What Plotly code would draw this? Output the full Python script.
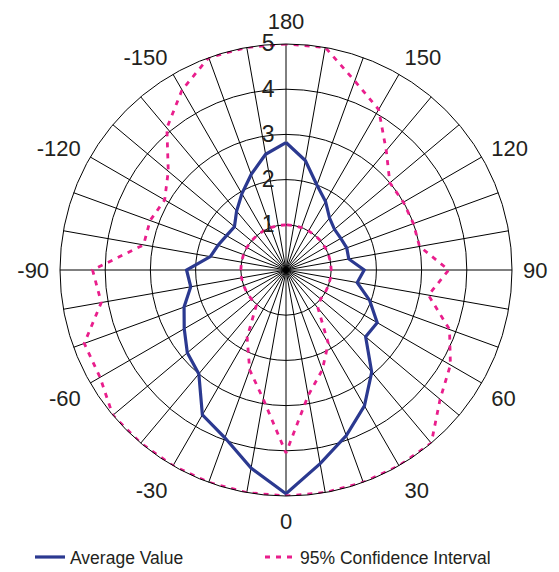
import plotly.graph_objects as go

# Angles (degrees): 0 at bottom, 90 at right
angles = list(range(-180, 181, 10))

average_value = [2.82, 2.60, 2.25, 1.95, 1.70, 1.49, 1.52, 1.60, 1.70, 2.20,
                 2.14, 2.40, 2.60, 2.85, 3.00, 3.70, 3.95, 4.45, 4.95,
                 4.35, 3.90, 3.47, 2.95, 2.30, 2.33, 1.97, 1.60, 1.73,
                 1.41, 1.43, 1.40, 1.40, 1.50, 1.75, 2.00, 2.46, 2.82]

ci_upper = [5.0, 5.0, 5.0, 4.6, 4.1, 3.4, 3.1, 3.2, 3.2, 4.28,
            4.15, 4.75, 4.75, 5.0, 5.0, 5.0, 5.0, 5.0, 5.0,
            5.0, 5.0, 5.0, 5.0, 4.45, 4.2, 3.85, 3.2, 3.6,
            3.0, 3.0, 3.0, 3.0, 3.45, 4.1, 4.45, 5.0, 5.0]

ci_lower = [1.0, 1.0, 1.0, 1.0, 1.0, 1.0, 1.0, 1.0, 1.0, 1.0,
            1.0, 1.0, 1.0, 1.0, 1.02, 1.72, 2.35, 2.9, 4.05,
            2.82, 2.35, 1.87, 1.1, 1.0, 1.0, 1.0, 1.0, 1.0,
            1.0, 1.0, 1.0, 1.0, 1.0, 1.0, 1.0, 1.0, 1.0]

radial_ticks = [1, 2, 3, 4, 5]
angular_tickvals = list(range(0, 360, 10))
angular_ticktext = [(str(v if v <= 180 else v - 360) if v % 30 == 0 else "") for v in angular_tickvals]

BLUE = "#2B3990"
PINK = "#E91E8C"
TXT = "#231F20"

fig = go.Figure()
fig.add_trace(go.Scatterpolar(
    r=average_value, theta=angles, mode="lines", name="Average Value",
    line=dict(color=BLUE, width=3.2), legendgroup="avg"))
fig.add_trace(go.Scatterpolar(
    r=ci_upper, theta=angles, mode="lines", name="95% Confidence Interval",
    line=dict(color=PINK, width=2.8, dash="5px,6px"), legendgroup="ci"))
fig.add_trace(go.Scatterpolar(
    r=ci_lower, theta=angles, mode="lines", name="95% Confidence Interval",
    line=dict(color=PINK, width=2.8, dash="5px,6px"), legendgroup="ci",
    showlegend=False))

W, H = 559, 572
OFF = 8  # page body margin
cx, cy, R = 286 - OFF, 270 - OFF, 226
fig.update_layout(
    width=W, height=H,
    margin=dict(l=0, r=0, t=0, b=0),
    paper_bgcolor="white",
    font=dict(family="Liberation Sans, Arial, sans-serif", color=TXT, size=22),
    polar=dict(
        domain=dict(x=[(cx - R) / W, (cx + R) / W],
                    y=[(H - cy - R) / H, (H - cy + R) / H]),
        bgcolor="white",
        angularaxis=dict(
            rotation=-90, direction="counterclockwise",
            tickmode="array", tickvals=angular_tickvals, ticktext=angular_ticktext,
            showgrid=True, gridcolor="black", gridwidth=0.8,
            showline=True, linecolor="black", linewidth=1,
            ticks="outside", ticklen=6, tickcolor="rgba(0,0,0,0)",
            tickfont=dict(size=22, color=TXT)),
        radialaxis=dict(
            range=[0, 5], tickmode="array", tickvals=radial_ticks,
            angle=90, tickangle=90, side="counterclockwise",
            showgrid=True, gridcolor="black", gridwidth=0.8,
            showline=False, ticks="outside", ticklen=3, tickcolor="rgba(0,0,0,0)",
            tickfont=dict(size=23, color=TXT)),
    ),
    showlegend=True,
    legend=dict(orientation="h", x=22 / W, y=0.040, xanchor="left", yanchor="middle",
                font=dict(size=17.5, color=TXT), entrywidth=185, entrywidthmode="pixels",
                bgcolor="rgba(0,0,0,0)"),
)

fig.write_html("out.html")
